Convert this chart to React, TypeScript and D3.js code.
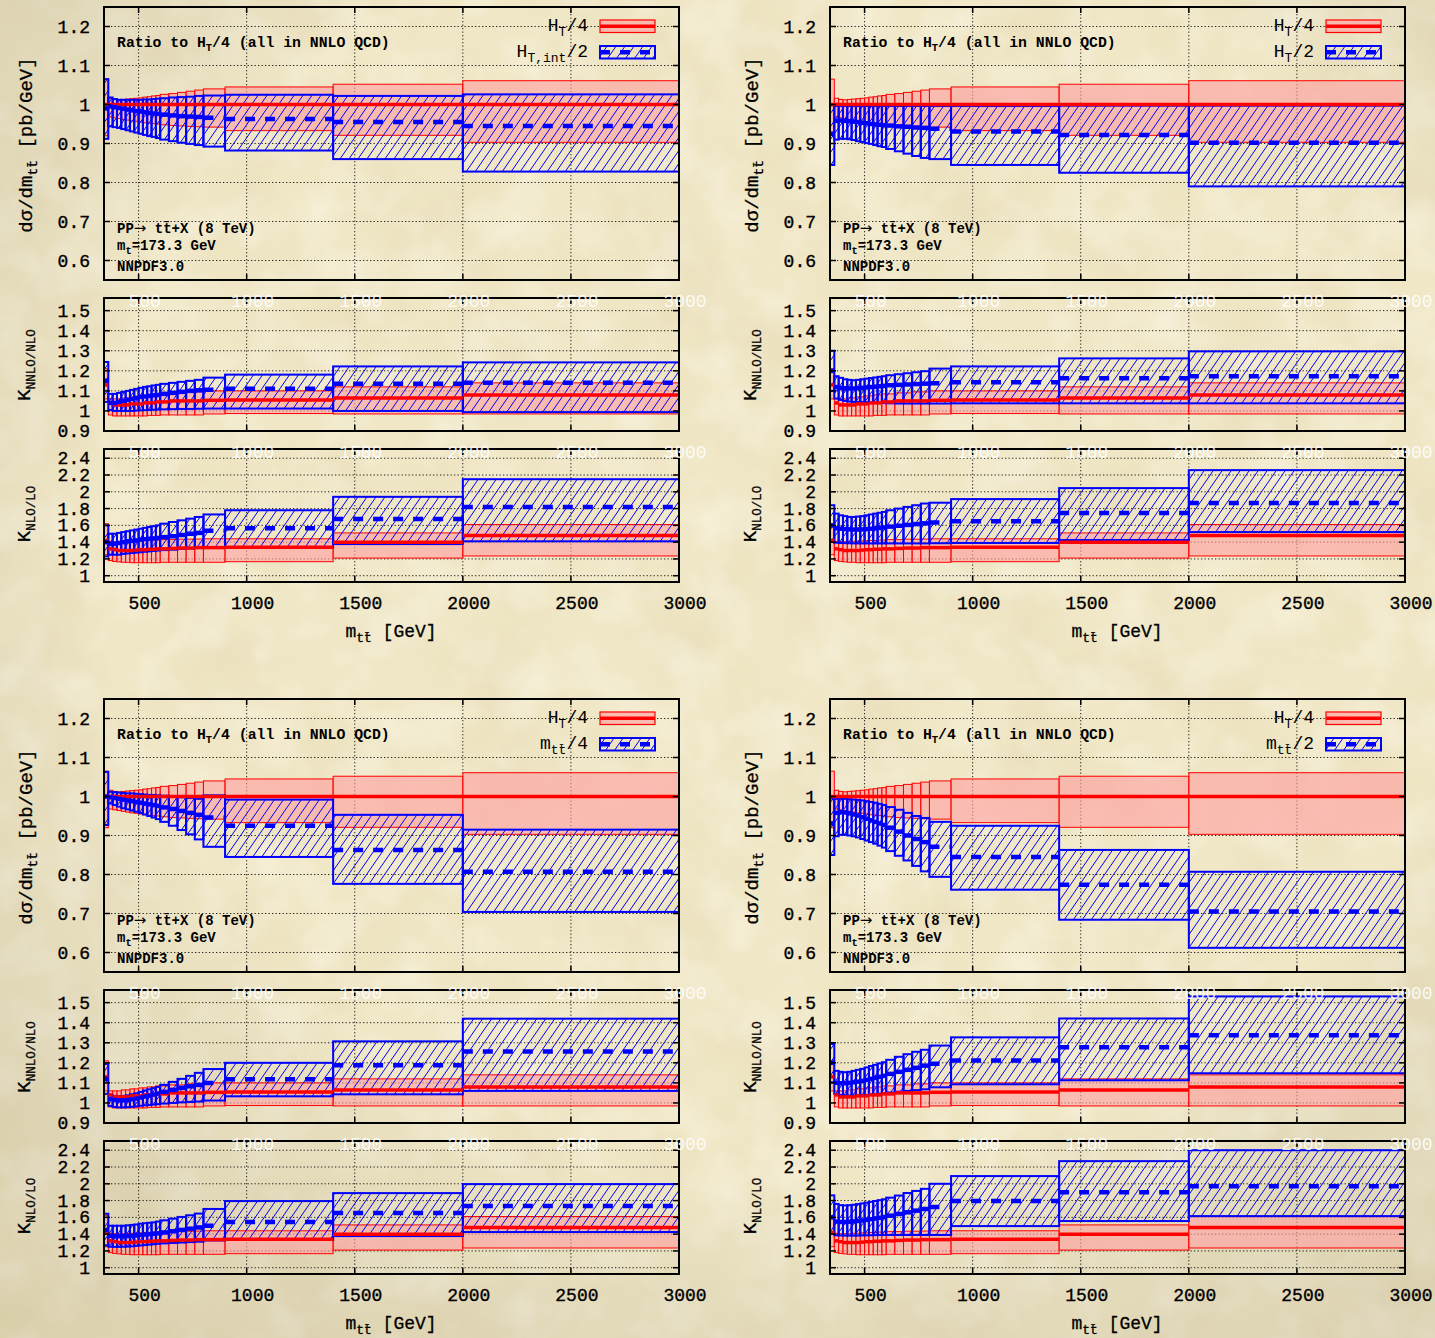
import React from "react";
import * as d3 from "d3";

// ---- binning in m_tt (GeV) ----
const binEdges = [340, 360, 380, 400, 420, 440, 460, 480, 500, 520, 540, 560, 580, 600, 640, 680, 720, 760, 800, 900, 1400, 2000, 3000];
const xTickValues = [500, 1000, 1500, 2000, 2500, 3000];
const ratioTicks = [0.6, 0.7, 0.8, 0.9, 1, 1.1, 1.2];
const kNnloTicks = [0.9, 1, 1.1, 1.2, 1.3, 1.4, 1.5];
const kNloTicks = [1, 1.2, 1.4, 1.6, 1.8, 2, 2.2, 2.4];

// ---- H_T/4 (reference scale, shown in every panel) ----
const ht4RatioMid = [1, 1, 1, 1, 1, 1, 1, 1, 1, 1, 1, 1, 1, 1, 1, 1, 1, 1, 1, 1, 1, 1];
const ht4RatioHi = [1.065, 1.016, 1.013, 1.012, 1.013, 1.014, 1.015, 1.016, 1.017, 1.019, 1.020, 1.022, 1.023, 1.026, 1.028, 1.031, 1.034, 1.037, 1.040, 1.045, 1.052, 1.061];
const ht4RatioLo = [0.920, 0.968, 0.966, 0.964, 0.962, 0.960, 0.958, 0.957, 0.955, 0.953, 0.952, 0.951, 0.950, 0.948, 0.946, 0.945, 0.944, 0.943, 0.942, 0.933, 0.921, 0.903];
const ht4KnnloMid = [1.130, 1.040, 1.030, 1.030, 1.030, 1.030, 1.035, 1.035, 1.035, 1.040, 1.040, 1.040, 1.045, 1.045, 1.050, 1.050, 1.050, 1.050, 1.053, 1.055, 1.065, 1.080];
const ht4KnnloHi = [1.210, 1.060, 1.060, 1.060, 1.065, 1.065, 1.070, 1.070, 1.075, 1.075, 1.080, 1.080, 1.085, 1.085, 1.090, 1.090, 1.095, 1.095, 1.100, 1.100, 1.120, 1.140];
const ht4KnnloLo = [1.060, 0.980, 0.975, 0.975, 0.975, 0.975, 0.975, 0.975, 0.975, 0.975, 0.978, 0.978, 0.978, 0.980, 0.980, 0.980, 0.980, 0.980, 0.985, 0.987, 0.985, 0.985];
const ht4KnloMid = [1.420, 1.320, 1.310, 1.300, 1.300, 1.300, 1.300, 1.305, 1.310, 1.310, 1.315, 1.315, 1.320, 1.320, 1.325, 1.330, 1.330, 1.335, 1.335, 1.340, 1.400, 1.480];
const ht4KnloHi = [1.620, 1.410, 1.405, 1.405, 1.405, 1.410, 1.410, 1.415, 1.415, 1.420, 1.420, 1.425, 1.425, 1.430, 1.430, 1.435, 1.435, 1.437, 1.440, 1.440, 1.510, 1.610];
const ht4KnloLo = [1.250, 1.180, 1.170, 1.165, 1.160, 1.160, 1.155, 1.155, 1.155, 1.155, 1.155, 1.155, 1.155, 1.160, 1.160, 1.160, 1.160, 1.160, 1.160, 1.167, 1.210, 1.235];

// ---- H_T,int/2 ----
const htInt2RatioMid = [0.990, 0.995, 0.993, 0.991, 0.989, 0.987, 0.985, 0.983, 0.982, 0.980, 0.978, 0.977, 0.976, 0.974, 0.972, 0.970, 0.969, 0.968, 0.966, 0.963, 0.955, 0.945];
const htInt2RatioHi = [1.065, 1.018, 1.014, 1.012, 1.012, 1.012, 1.012, 1.012, 1.012, 1.013, 1.013, 1.014, 1.015, 1.016, 1.018, 1.019, 1.020, 1.022, 1.023, 1.025, 1.022, 1.026];
const htInt2RatioLo = [0.912, 0.944, 0.942, 0.940, 0.937, 0.934, 0.931, 0.928, 0.925, 0.922, 0.919, 0.917, 0.914, 0.910, 0.906, 0.902, 0.899, 0.896, 0.892, 0.882, 0.860, 0.828];
const htInt2KnnloMid = [1.150, 1.040, 1.040, 1.045, 1.050, 1.055, 1.060, 1.065, 1.070, 1.072, 1.075, 1.078, 1.080, 1.085, 1.090, 1.095, 1.100, 1.103, 1.106, 1.111, 1.135, 1.140];
const htInt2KnnloHi = [1.244, 1.085, 1.085, 1.090, 1.095, 1.100, 1.105, 1.110, 1.115, 1.120, 1.123, 1.127, 1.130, 1.135, 1.140, 1.145, 1.150, 1.155, 1.166, 1.181, 1.222, 1.242];
const htInt2KnnloLo = [1.045, 1.005, 1.000, 1.000, 1.000, 1.000, 1.000, 1.002, 1.003, 1.004, 1.005, 1.006, 1.007, 1.008, 1.009, 1.010, 1.010, 1.011, 1.012, 1.012, 1.000, 0.994];
const htInt2KnloMid = [1.400, 1.380, 1.380, 1.390, 1.400, 1.410, 1.415, 1.420, 1.430, 1.435, 1.440, 1.445, 1.450, 1.460, 1.470, 1.485, 1.500, 1.510, 1.535, 1.565, 1.675, 1.820];
const htInt2KnloHi = [1.600, 1.500, 1.500, 1.510, 1.520, 1.530, 1.540, 1.550, 1.560, 1.570, 1.580, 1.590, 1.600, 1.620, 1.640, 1.660, 1.680, 1.700, 1.730, 1.780, 1.940, 2.150];
const htInt2KnloLo = [1.230, 1.250, 1.250, 1.250, 1.260, 1.265, 1.270, 1.275, 1.280, 1.285, 1.290, 1.295, 1.300, 1.305, 1.310, 1.320, 1.325, 1.330, 1.340, 1.338, 1.377, 1.410];

// ---- H_T/2 ----
const ht2RatioMid = [0.925, 0.958, 0.959, 0.958, 0.957, 0.956, 0.955, 0.953, 0.952, 0.950, 0.949, 0.948, 0.947, 0.946, 0.944, 0.943, 0.941, 0.940, 0.938, 0.931, 0.922, 0.902];
const ht2RatioHi = [0.998, 0.996, 0.996, 0.996, 0.996, 0.996, 0.996, 0.996, 0.996, 0.996, 0.996, 0.996, 0.996, 0.996, 0.996, 0.996, 0.996, 0.996, 0.996, 0.996, 0.997, 0.997];
const ht2RatioLo = [0.845, 0.910, 0.912, 0.912, 0.911, 0.909, 0.906, 0.904, 0.901, 0.899, 0.896, 0.893, 0.891, 0.886, 0.880, 0.874, 0.868, 0.863, 0.860, 0.845, 0.825, 0.790];
const ht2KnnloMid = [1.200, 1.119, 1.115, 1.113, 1.112, 1.112, 1.113, 1.115, 1.117, 1.119, 1.121, 1.123, 1.125, 1.128, 1.130, 1.132, 1.134, 1.136, 1.138, 1.143, 1.163, 1.173];
const ht2KnnloHi = [1.300, 1.173, 1.165, 1.158, 1.155, 1.153, 1.155, 1.158, 1.161, 1.164, 1.167, 1.170, 1.173, 1.178, 1.183, 1.188, 1.193, 1.198, 1.211, 1.222, 1.262, 1.297];
const ht2KnnloLo = [1.100, 1.062, 1.055, 1.050, 1.047, 1.045, 1.045, 1.045, 1.044, 1.042, 1.040, 1.040, 1.039, 1.038, 1.037, 1.037, 1.037, 1.037, 1.037, 1.038, 1.038, 1.038];
const ht2KnloMid = [1.600, 1.565, 1.560, 1.555, 1.552, 1.550, 1.550, 1.552, 1.555, 1.560, 1.565, 1.570, 1.575, 1.585, 1.595, 1.605, 1.615, 1.624, 1.635, 1.650, 1.746, 1.866];
const ht2KnloHi = [1.840, 1.740, 1.720, 1.710, 1.700, 1.700, 1.705, 1.710, 1.720, 1.730, 1.740, 1.750, 1.760, 1.780, 1.800, 1.820, 1.840, 1.860, 1.870, 1.913, 2.044, 2.258];
const ht2KnloLo = [1.405, 1.393, 1.390, 1.388, 1.387, 1.386, 1.385, 1.385, 1.385, 1.385, 1.385, 1.385, 1.385, 1.385, 1.385, 1.385, 1.385, 1.385, 1.387, 1.390, 1.425, 1.520];

// ---- m_tt/4 ----
const mtt4RatioMid = [1.000, 0.998, 0.996, 0.994, 0.992, 0.990, 0.988, 0.986, 0.984, 0.982, 0.980, 0.978, 0.976, 0.972, 0.968, 0.963, 0.958, 0.953, 0.946, 0.925, 0.863, 0.807];
const mtt4RatioHi = [1.063, 1.012, 1.011, 1.010, 1.009, 1.008, 1.008, 1.007, 1.006, 1.005, 1.004, 1.004, 1.003, 1.002, 1.000, 0.998, 0.996, 0.994, 1.003, 0.992, 0.953, 0.915];
const mtt4RatioLo = [0.927, 0.982, 0.978, 0.974, 0.970, 0.967, 0.964, 0.961, 0.958, 0.954, 0.950, 0.946, 0.942, 0.935, 0.925, 0.914, 0.903, 0.890, 0.871, 0.845, 0.776, 0.704];
const mtt4KnnloMid = [1.120, 1.020, 1.015, 1.013, 1.013, 1.015, 1.018, 1.022, 1.027, 1.032, 1.037, 1.042, 1.047, 1.055, 1.065, 1.075, 1.083, 1.090, 1.100, 1.118, 1.188, 1.257];
const mtt4KnnloHi = [1.194, 1.040, 1.035, 1.033, 1.035, 1.038, 1.043, 1.048, 1.055, 1.062, 1.068, 1.074, 1.080, 1.090, 1.105, 1.120, 1.135, 1.150, 1.169, 1.200, 1.307, 1.420];
const mtt4KnnloLo = [1.045, 0.985, 0.980, 0.978, 0.978, 0.979, 0.981, 0.983, 0.986, 0.988, 0.990, 0.992, 0.994, 0.997, 1.000, 1.003, 1.005, 1.007, 1.012, 1.033, 1.043, 1.060];
const mtt4KnloMid = [1.450, 1.380, 1.375, 1.375, 1.375, 1.378, 1.380, 1.385, 1.390, 1.395, 1.400, 1.405, 1.410, 1.420, 1.435, 1.450, 1.465, 1.480, 1.500, 1.544, 1.651, 1.735];
const mtt4KnloHi = [1.643, 1.500, 1.500, 1.500, 1.500, 1.505, 1.510, 1.515, 1.524, 1.530, 1.535, 1.540, 1.550, 1.565, 1.585, 1.605, 1.625, 1.645, 1.700, 1.794, 1.889, 1.996];
const mtt4KnloLo = [1.267, 1.250, 1.248, 1.248, 1.250, 1.252, 1.255, 1.260, 1.265, 1.270, 1.275, 1.280, 1.285, 1.290, 1.295, 1.300, 1.305, 1.310, 1.325, 1.330, 1.377, 1.425];

// ---- m_tt/2 ----
const mtt2RatioMid = [0.931, 0.958, 0.960, 0.959, 0.957, 0.954, 0.951, 0.947, 0.943, 0.939, 0.935, 0.931, 0.927, 0.920, 0.910, 0.900, 0.891, 0.883, 0.871, 0.845, 0.774, 0.705];
const mtt2RatioHi = [0.995, 0.994, 0.994, 0.994, 0.993, 0.992, 0.991, 0.990, 0.988, 0.986, 0.984, 0.981, 0.978, 0.973, 0.966, 0.958, 0.950, 0.945, 0.935, 0.925, 0.863, 0.807];
const mtt2RatioLo = [0.850, 0.898, 0.902, 0.902, 0.900, 0.898, 0.895, 0.891, 0.887, 0.883, 0.879, 0.874, 0.869, 0.860, 0.848, 0.836, 0.822, 0.808, 0.794, 0.761, 0.684, 0.612];
const mtt2KnnloMid = [1.200, 1.100, 1.098, 1.098, 1.100, 1.103, 1.106, 1.110, 1.115, 1.120, 1.125, 1.130, 1.135, 1.145, 1.155, 1.165, 1.175, 1.186, 1.195, 1.212, 1.277, 1.337];
const mtt2KnnloHi = [1.294, 1.160, 1.155, 1.153, 1.155, 1.160, 1.165, 1.170, 1.177, 1.184, 1.190, 1.197, 1.203, 1.215, 1.230, 1.243, 1.255, 1.265, 1.286, 1.327, 1.421, 1.531];
const mtt2KnnloLo = [1.103, 1.045, 1.040, 1.038, 1.037, 1.037, 1.037, 1.038, 1.040, 1.042, 1.044, 1.046, 1.048, 1.052, 1.056, 1.060, 1.064, 1.068, 1.078, 1.093, 1.113, 1.148];
const mtt2KnloMid = [1.600, 1.550, 1.545, 1.545, 1.548, 1.552, 1.557, 1.563, 1.570, 1.578, 1.587, 1.595, 1.604, 1.620, 1.640, 1.660, 1.680, 1.700, 1.723, 1.794, 1.900, 1.970];
const mtt2KnloHi = [1.862, 1.760, 1.745, 1.742, 1.745, 1.750, 1.758, 1.766, 1.775, 1.785, 1.795, 1.805, 1.815, 1.835, 1.860, 1.890, 1.915, 1.940, 2.000, 2.092, 2.270, 2.400];
const mtt2KnloLo = [1.425, 1.386, 1.384, 1.383, 1.383, 1.383, 1.384, 1.385, 1.386, 1.387, 1.388, 1.389, 1.390, 1.390, 1.390, 1.390, 1.390, 1.390, 1.390, 1.496, 1.556, 1.615];

// ---- layout ----
const W = 1435;
const H = 1338;
const PLOT_W = 575;
const COL_LEFT = [104, 830];
const ROW_OFF = [0, 692];
const FONT = "'Liberation Mono', 'DejaVu Sans Mono', monospace";
const RED = "#ff0000";
const BLUE = "#0000ff";
const PINK = "#ffa0a0";

type Band = { mid: number[]; lo: number[]; hi: number[] };
type Seg = [string, boolean?];

const ht4Ratio: Band = { mid: ht4RatioMid, lo: ht4RatioLo, hi: ht4RatioHi };
const ht4Knnlo: Band = { mid: ht4KnnloMid, lo: ht4KnnloLo, hi: ht4KnnloHi };
const ht4Knlo: Band = { mid: ht4KnloMid, lo: ht4KnloLo, hi: ht4KnloHi };

const panels = [
  {
    legend: [["H"], ["T,int", true], ["/2"]] as Seg[],
    ratio: { mid: htInt2RatioMid, lo: htInt2RatioLo, hi: htInt2RatioHi },
    knnlo: { mid: htInt2KnnloMid, lo: htInt2KnnloLo, hi: htInt2KnnloHi },
    knlo: { mid: htInt2KnloMid, lo: htInt2KnloLo, hi: htInt2KnloHi },
  },
  {
    legend: [["H"], ["T", true], ["/2"]] as Seg[],
    ratio: { mid: ht2RatioMid, lo: ht2RatioLo, hi: ht2RatioHi },
    knnlo: { mid: ht2KnnloMid, lo: ht2KnnloLo, hi: ht2KnnloHi },
    knlo: { mid: ht2KnloMid, lo: ht2KnloLo, hi: ht2KnloHi },
  },
  {
    legend: [["m"], ["tt\u0304", true], ["/4"]] as Seg[],
    ratio: { mid: mtt4RatioMid, lo: mtt4RatioLo, hi: mtt4RatioHi },
    knnlo: { mid: mtt4KnnloMid, lo: mtt4KnnloLo, hi: mtt4KnnloHi },
    knlo: { mid: mtt4KnloMid, lo: mtt4KnloLo, hi: mtt4KnloHi },
  },
  {
    legend: [["m"], ["tt\u0304", true], ["/2"]] as Seg[],
    ratio: { mid: mtt2RatioMid, lo: mtt2RatioLo, hi: mtt2RatioHi },
    knnlo: { mid: mtt2KnnloMid, lo: mtt2KnnloLo, hi: mtt2KnnloHi },
    knlo: { mid: mtt2KnloMid, lo: mtt2KnloLo, hi: mtt2KnloHi },
  },
];

const subplots = [
  { key: "ratio", top: 7, bottom: 280, domain: [0.55, 1.25], ticks: ratioTicks, ghost: false, xLabels: false },
  { key: "knnlo", top: 298, bottom: 431, domain: [0.9, 1.563], ticks: kNnloTicks, ghost: true, xLabels: false },
  { key: "knlo", top: 449, bottom: 582, domain: [0.925, 2.51], ticks: kNloTicks, ghost: true, xLabels: true },
];

// text with subscripts
function rich(segs: Seg[], subSize: number, shift: number) {
  let lowered = false;
  return segs.map(([t, sub], i) => {
    let dy = 0;
    if (sub && !lowered) {
      dy = shift;
      lowered = true;
    } else if (!sub && lowered) {
      dy = -shift;
      lowered = false;
    }
    return (
      <tspan key={i} dy={dy || undefined} fontSize={sub ? subSize : undefined}>
        {t}
      </tspan>
    );
  });
}

function Subplot(props: {
  id: string;
  left: number;
  off: number;
  top: number;
  bottom: number;
  domain: number[];
  ticks: number[];
  red: Band;
  blue: Band;
  ghost: boolean;
  xLabels: boolean;
}) {
  const { id, left, off, red, blue, ticks } = props;
  const top = props.top + off;
  const bottom = props.bottom + off;
  const x = d3.scaleLinear().domain([binEdges[0], binEdges[binEdges.length - 1]]).range([left, left + PLOT_W]);
  const y = d3.scaleLinear().domain(props.domain).range([bottom, top]);
  const bins = d3.pairs(binEdges);
  const right = left + PLOT_W;

  return (
    <g>
      <defs>
        <clipPath id={id}>
          <rect x={left} y={top} width={PLOT_W} height={bottom - top} />
        </clipPath>
      </defs>
      {/* grid */}
      <g stroke="#000" strokeWidth={1} strokeDasharray="1.3 2.2" opacity={0.85}>
        {ticks.map((t) => (
          <line key={"h" + t} x1={left} x2={right} y1={y(t)} y2={y(t)} />
        ))}
        {xTickValues.filter((v) => v < 3000).map((v) => (
          <line key={"v" + v} x1={x(v)} x2={x(v)} y1={top} y2={bottom} />
        ))}
      </g>
      <g clipPath={`url(#${id})`}>
        {/* H_T/4 band */}
        {bins.map(([a, b], i) => (
          <rect
            key={"r" + i}
            x={x(a)}
            y={y(red.hi[i])}
            width={x(b) - x(a)}
            height={y(red.lo[i]) - y(red.hi[i])}
            fill={PINK}
            fillOpacity={0.62}
            stroke={RED}
            strokeWidth={1}
          />
        ))}
        {/* alternative-scale band, hatched */}
        {bins.map(([a, b], i) => (
          <rect
            key={"b" + i}
            x={x(a)}
            y={y(blue.hi[i])}
            width={x(b) - x(a)}
            height={y(blue.lo[i]) - y(blue.hi[i])}
            fill="url(#hatch)"
            stroke={BLUE}
            strokeWidth={2}
          />
        ))}
        {/* central values */}
        {bins.map(([a, b], i) => (
          <line key={"rc" + i} x1={x(a)} x2={x(b)} y1={y(red.mid[i])} y2={y(red.mid[i])} stroke={RED} strokeWidth={3.5} />
        ))}
        {bins.map(([a, b], i) => (
          <line
            key={"bc" + i}
            x1={x(a)}
            x2={x(b)}
            y1={y(blue.mid[i])}
            y2={y(blue.mid[i])}
            stroke={BLUE}
            strokeWidth={4.5}
            strokeDasharray="10 10"
          />
        ))}
      </g>
      {/* ticks */}
      <g stroke="#000" strokeWidth={1.5}>
        {ticks.map((t) => (
          <g key={"t" + t}>
            <line x1={left} x2={left + 6} y1={y(t)} y2={y(t)} />
            <line x1={right - 6} x2={right} y1={y(t)} y2={y(t)} />
          </g>
        ))}
        {xTickValues.map((v) => (
          <g key={"xt" + v}>
            <line x1={x(v)} x2={x(v)} y1={bottom} y2={bottom - 6} />
            <line x1={x(v)} x2={x(v)} y1={top} y2={top + 6} />
          </g>
        ))}
      </g>
      <rect x={left} y={top} width={PLOT_W} height={bottom - top} fill="none" stroke="#000" strokeWidth={2} />
      {/* y tick labels */}
      <g fontFamily={FONT} fontSize={18} fill="#000" stroke="#000" strokeWidth={0.35} textAnchor="end">
        {ticks.map((t) => (
          <text key={"yl" + t} x={left - 14} y={y(t) + 6}>
            {String(t)}
          </text>
        ))}
      </g>
      {props.ghost && (
        <g fontFamily={FONT} fontSize={18} fill="#ffffff" fillOpacity={0.85} textAnchor="middle">
          {xTickValues.map((v) => (
            <text key={"g" + v} x={x(v) + 6} y={top + 9}>
              {String(v)}
            </text>
          ))}
        </g>
      )}
      {props.xLabels && (
        <g fontFamily={FONT} fontSize={18} fill="#000" stroke="#000" strokeWidth={0.35} textAnchor="middle">
          {xTickValues.map((v) => (
            <text key={"xl" + v} x={x(v) + 6} y={bottom + 27}>
              {String(v)}
            </text>
          ))}
        </g>
      )}
    </g>
  );
}

function Panel({ idx }: { idx: number }) {
  const p = panels[idx];
  const left = COL_LEFT[idx % 2];
  const off = ROW_OFF[Math.floor(idx / 2)];
  const bands: Record<string, [Band, Band]> = {
    ratio: [ht4Ratio, p.ratio],
    knnlo: [ht4Knnlo, p.knnlo],
    knlo: [ht4Knlo, p.knlo],
  };
  const legX = left + 484;
  const boxX = left + 496;
  const boxW = 55;
  return (
    <g>
      {subplots.map((s) => (
        <Subplot
          key={s.key}
          id={`clip-${idx}-${s.key}`}
          left={left}
          off={off}
          top={s.top}
          bottom={s.bottom}
          domain={s.domain}
          ticks={s.ticks}
          red={bands[s.key][0]}
          blue={bands[s.key][1]}
          ghost={s.ghost}
          xLabels={s.xLabels}
        />
      ))}
      {/* annotations in the ratio plot */}
      <g fontFamily={FONT} fontWeight="bold" fill="#000" style={{ whiteSpace: "pre" }}>
        <text x={left + 13} y={off + 47} fontSize={14.8}>
          {rich([["Ratio to H"], ["T", true], ["/4 (all in NNLO QCD)"]], 10.5, 4)}
        </text>
        <text x={left + 13} y={off + 233} fontSize={14}>
          <tspan>PP</tspan>
          <tspan fontFamily="'DejaVu Sans', sans-serif" fontWeight="normal" fontSize={15}>{"\u2192"}</tspan>
          <tspan>{" tt\u0304+X (8 TeV)"}</tspan>
        </text>
        <text x={left + 13} y={off + 250} fontSize={14}>
          {rich([["m"], ["t", true], ["=173.3 GeV"]], 10.5, 4)}
        </text>
        <text x={left + 13} y={off + 271} fontSize={14}>
          NNPDF3.0
        </text>
      </g>
      {/* legend */}
      <g fontFamily={FONT} fontSize={18} fill="#000" textAnchor="end" style={{ whiteSpace: "pre" }}>
        <text x={legX} y={off + 31}>
          {rich([["H"], ["T", true], ["/4"]], 13, 5)}
        </text>
        <text x={legX} y={off + 57}>
          {rich(p.legend, 13, 5)}
        </text>
      </g>
      <rect x={boxX} y={off + 20} width={boxW} height={12.5} fill={PINK} fillOpacity={0.62} stroke={RED} strokeWidth={1.2} />
      <line x1={boxX} x2={boxX + boxW} y1={off + 26.3} y2={off + 26.3} stroke={RED} strokeWidth={3.5} />
      <rect x={boxX} y={off + 46} width={boxW} height={12.5} fill="url(#hatch)" stroke={BLUE} strokeWidth={2} />
      <line
        x1={boxX}
        x2={boxX + boxW}
        y1={off + 52.3}
        y2={off + 52.3}
        stroke={BLUE}
        strokeWidth={4.5}
        strokeDasharray="10 10"
      />
      {/* axis titles */}
      <g fontFamily={FONT} fill="#000" stroke="#000" strokeWidth={0.3} textAnchor="middle" style={{ whiteSpace: "pre" }}>
        <text transform={`translate(${left - 72},${off + 145}) rotate(-90)`} fontSize={19}>
          {rich([["d\u03c3/dm"], ["tt\u0304", true], [" [pb/GeV]"]], 13, 5)}
        </text>
        <text transform={`translate(${left - 74},${off + 365}) rotate(-90)`} fontSize={19}>
          {rich([["K"], ["NNLO/NLO", true]], 12.5, 5)}
        </text>
        <text transform={`translate(${left - 74},${off + 514}) rotate(-90)`} fontSize={19}>
          {rich([["K"], ["NLO/LO", true]], 12.5, 5)}
        </text>
        <text x={left + 287} y={off + 637} fontSize={18}>
          {rich([["m"], ["tt\u0304", true], ["  [GeV]"]], 13, 5)}
        </text>
      </g>
    </g>
  );
}

export default function App() {
  return (
    <svg width={W} height={H} style={{ position: "absolute", left: 0, top: 0 }} xmlns="http://www.w3.org/2000/svg">
      <defs>
        <pattern id="hatch" patternUnits="userSpaceOnUse" width={9} height={13}>
          <path d="M0,13 L9,0 M-2.25,3.25 L2.25,-3.25 M6.75,16.25 L11.25,9.75" stroke={BLUE} strokeWidth={1} fill="none" />
        </pattern>
        <filter id="paperDark" x="0" y="0" width="100%" height="100%">
          <feTurbulence type="fractalNoise" baseFrequency="0.011" numOctaves={4} seed={7} />
          <feColorMatrix type="matrix" values="0 0 0 0 0.62  0 0 0 0 0.50  0 0 0 0 0.28  1.5 0 0 0 -0.62" />
        </filter>
        <filter id="paperLight" x="0" y="0" width="100%" height="100%">
          <feTurbulence type="fractalNoise" baseFrequency="0.02" numOctaves={3} seed={21} />
          <feColorMatrix type="matrix" values="0 0 0 0 1  0 0 0 0 0.99  0 0 0 0 0.92  0 1.6 0 0 -0.68" />
        </filter>
        <radialGradient id="vignette" cx="0.55" cy="0.4" r="0.8">
          <stop offset="0.6" stopColor="#000" stopOpacity={0} />
          <stop offset="1" stopColor="#7a6435" stopOpacity={0.16} />
        </radialGradient>
      </defs>
      <rect width={W} height={H} fill="#f0e7c6" />
      <rect width={W} height={H} filter="url(#paperDark)" opacity={0.22} />
      <rect width={W} height={H} filter="url(#paperLight)" opacity={0.5} />
      <rect width={W} height={H} fill="url(#vignette)" />
      {[0, 1, 2, 3].map((i) => (
        <Panel key={i} idx={i} />
      ))}
    </svg>
  );
}
